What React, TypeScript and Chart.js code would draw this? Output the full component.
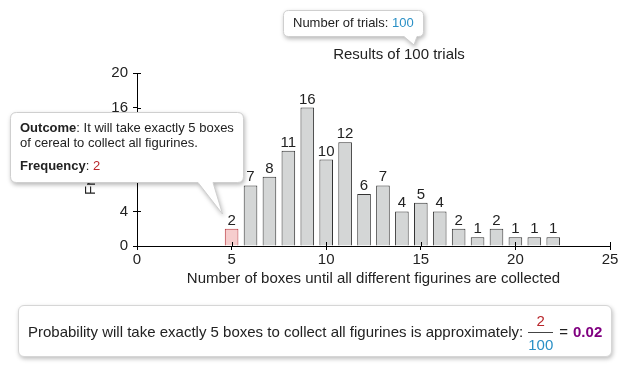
import React, { useEffect, useRef } from "react";
import { Chart, registerables } from "chart.js";

Chart.register(...registerables);

const FONT = "'Liberation Sans', Arial, sans-serif";

const boxCounts = [5, 6, 7, 8, 9, 10, 11, 12, 13, 14, 15, 16, 17, 18, 19, 20, 21, 22];
const frequencies = [2, 7, 8, 11, 16, 10, 12, 6, 7, 4, 5, 4, 2, 1, 2, 1, 1, 1];
const highlightedCount = 5;
const highlightedFrequency = 2;
const trials = 100;
const xMin = 0;
const xMax = 25;
const xStep = 5;
const yMin = 0;
const yMax = 20;
const yStep = 4;
const titleText = "Results of 100 trials";
const xTitle = "Number of boxes until all different figurines are collected";
const yTitle = "Frequency";
const probability = "0.02";

const innerTicksPlugin = {
  id: "innerTicks",
  afterDraw(chart: any) {
    const { ctx, chartArea } = chart;
    ctx.save();
    ctx.strokeStyle = "#000";
    ctx.lineWidth = 1;
    ctx.beginPath();
    chart.scales.x.ticks.forEach((t: any) => {
      const px = Math.round(chart.scales.x.getPixelForValue(t.value)) + 0.5;
      ctx.moveTo(px, chartArea.bottom);
      ctx.lineTo(px, chartArea.bottom - 4);
    });
    chart.scales.y.ticks.forEach((t: any) => {
      const py = Math.round(chart.scales.y.getPixelForValue(t.value)) + 0.5;
      ctx.moveTo(chartArea.left, py);
      ctx.lineTo(chartArea.left + 4, py);
    });
    ctx.stroke();
    ctx.restore();
  },
};

const labelsPlugin = {
  id: "barLabels",
  afterDatasetsDraw(chart: any) {
    const { ctx } = chart;
    const meta = chart.getDatasetMeta(0);
    ctx.save();
    ctx.font = `15px ${FONT}`;
    ctx.fillStyle = "#222";
    ctx.textAlign = "center";
    ctx.textBaseline = "alphabetic";
    meta.data.forEach((bar: any, i: number) => {
      ctx.fillText(String(frequencies[i]), bar.x, bar.y - 4);
    });
    ctx.fillText(titleText, 399, 59);
    ctx.restore();
  },
};

function Callout({ d }: { d: string }) {
  return (
    <path
      d={d}
      fill="#fff"
      stroke="#cfcfcf"
      strokeWidth={1}
      style={{ filter: "drop-shadow(1px 2px 2px rgba(0,0,0,0.28))" }}
    />
  );
}

export default function App() {
  const canvasRef = useRef<HTMLCanvasElement | null>(null);

  useEffect(() => {
    if (!canvasRef.current) return;
    const chart = new Chart(canvasRef.current, {
      type: "bar",
      data: {
        datasets: [
          {
            data: boxCounts.map((x, i) => ({ x, y: frequencies[i] })),
            backgroundColor: boxCounts.map((x) => (x === highlightedCount ? "#f6cdcd" : "#d4d6d6")),
            borderColor: boxCounts.map((x) => (x === highlightedCount ? "#b8333a" : "#333")),
            borderWidth: 1,
            barPercentage: 0.72,
            categoryPercentage: 1,
          } as any,
        ],
      },
      options: {
        animation: false,
        responsive: false,
        maintainAspectRatio: false,
        layout: { padding: { top: 73, right: 18, left: 0, bottom: 0 } },
        plugins: {
          legend: { display: false },
          tooltip: { enabled: false },
          title: { display: false },
        },
        scales: {
          x: {
            type: "linear",
            min: xMin,
            max: xMax,
            offset: false,
            ticks: { stepSize: xStep, color: "#222", font: { size: 15, family: FONT }, padding: 1, maxRotation: 0 },
            grid: { offset: false, drawOnChartArea: false, drawTicks: true, tickLength: 4, color: "#000" },
            border: { color: "#000" },
            title: {
              display: true,
              text: xTitle,
              color: "#222",
              font: { size: 15, family: FONT },
              padding: { top: 0, bottom: 12 },
            },
            afterFit: (s: any) => {
              s.height = 54;
            },
          },
          y: {
            min: yMin,
            max: yMax,
            ticks: { stepSize: yStep, color: "#222", font: { size: 15, family: FONT }, padding: 5 },
            grid: { drawOnChartArea: false, drawTicks: true, tickLength: 4, color: "#000" },
            border: { color: "#000" },
            title: {
              display: true,
              text: yTitle,
              color: "#222",
              font: { size: 15, family: FONT },
              padding: { top: 82, bottom: 0 },
            },
            afterFit: (s: any) => {
              s.width = 137;
            },
          },
        } as any,
      },
      plugins: [innerTicksPlugin, labelsPlugin],
    });
    return () => chart.destroy();
  }, []);

  const textStyle: React.CSSProperties = {
    position: "absolute",
    fontFamily: FONT,
    fontSize: 13,
    lineHeight: "15px",
    color: "#222",
    whiteSpace: "nowrap",
  };

  return (
    <div style={{ position: "absolute", left: 0, top: 0, width: 628, height: 366, background: "#fff", fontFamily: FONT }}>
      <canvas ref={canvasRef} width={628} height={300} style={{ display: "block", position: "absolute", left: 0, top: 0 }} />
      <svg width={628} height={366} style={{ position: "absolute", left: 0, top: 0, pointerEvents: "none" }}>
        <Callout d="M288.5,10.5 H418.5 Q423.5,10.5 423.5,15.5 V31.5 Q423.5,36.5 418.5,36.5 H417 L414,45 L404,36.5 H288.5 Q283.5,36.5 283.5,31.5 V15.5 Q283.5,10.5 288.5,10.5 Z" />
        <Callout d="M16.5,112.5 H237.5 Q243.5,112.5 243.5,118.5 V176.5 Q243.5,182.5 237.5,182.5 H213 L222.5,214 L198,182.5 H16.5 Q10.5,182.5 10.5,176.5 V118.5 Q10.5,112.5 16.5,112.5 Z" />
      </svg>
      <div style={{ ...textStyle, left: 293, top: 15 }}>
        Number of trials: <span style={{ color: "#2a90c6" }}>{trials}</span>
      </div>
      <div style={{ ...textStyle, left: 20, top: 120 }}>
        <b>Outcome</b>: It will take exactly {highlightedCount} boxes
      </div>
      <div style={{ ...textStyle, left: 20, top: 135 }}>of cereal to collect all figurines.</div>
      <div style={{ ...textStyle, left: 20, top: 158 }}>
        <b>Frequency</b>: <span style={{ color: "#b8262b" }}>{highlightedFrequency}</span>
      </div>
      <div
        style={{
          position: "absolute",
          left: 18,
          top: 305,
          width: 594,
          height: 52,
          border: "1px solid #d6d6d6",
          borderRadius: 6,
          boxShadow: "1px 2px 4px rgba(0,0,0,0.25)",
          background: "#fff",
          display: "flex",
          alignItems: "center",
          boxSizing: "border-box",
          paddingLeft: 9,
          fontSize: 15,
          color: "#222",
          whiteSpace: "nowrap",
        }}
      >
        <span>Probability will take exactly {highlightedCount} boxes to collect all figurines is approximately:</span>
        <span style={{ display: "inline-flex", flexDirection: "column", alignItems: "center", margin: "3px 6px 0 5px", lineHeight: "17px" }}>
          <span style={{ color: "#b8262b", paddingBottom: 3 }}>{highlightedFrequency}</span>
          <span style={{ borderTop: "1px solid #444", padding: "3px 0 0 0", color: "#2a90c6" }}>{trials}</span>
        </span>
        <span>=</span>
        <b style={{ color: "#800080", marginLeft: 5 }}>{probability}</b>
      </div>
    </div>
  );
}
